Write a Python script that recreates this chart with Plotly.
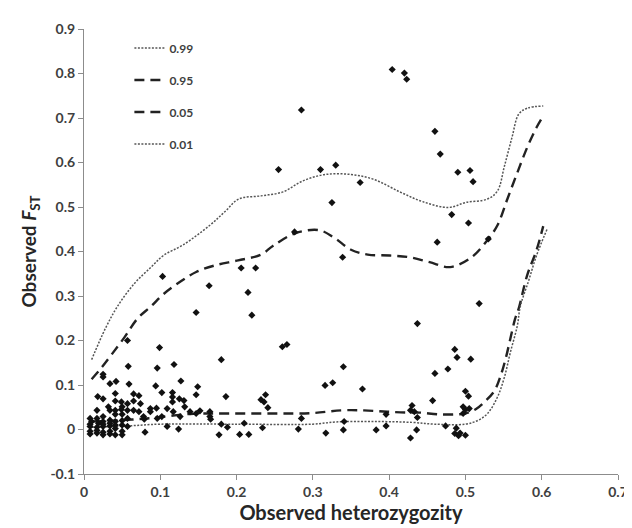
import plotly.graph_objects as go

# ---- data ----
het = [
    0.008, 0.008, 0.008, 0.008, 0.008, 0.010,
    0.017, 0.017, 0.017, 0.017, 0.018, 0.019, 0.017,
    0.025, 0.025, 0.025, 0.025, 0.025, 0.025, 0.025, 0.025, 0.025,
    0.032, 0.034, 0.034, 0.034, 0.034, 0.034, 0.034, 0.034,
    0.041, 0.041, 0.041, 0.041, 0.041, 0.041, 0.041, 0.042, 0.041,
    0.050, 0.050, 0.050, 0.050, 0.050, 0.049, 0.049, 0.050,
    0.057, 0.057, 0.057, 0.057, 0.059, 0.058, 0.057,
    0.065, 0.065, 0.065, 0.072, 0.074, 0.072,
    0.078, 0.080, 0.079, 0.087, 0.087,
    0.094, 0.096, 0.096, 0.099, 0.095,
    0.102, 0.102, 0.103, 0.109, 0.109,
    0.116, 0.116, 0.116, 0.117, 0.118,
    0.124, 0.126, 0.127, 0.125, 0.132, 0.131, 0.139,
    0.147, 0.149, 0.147, 0.147,
    0.152, 0.165, 0.165, 0.166, 0.164, 0.180, 0.186, 0.180, 0.188,
    0.177, 0.204, 0.216, 0.210, 0.206, 0.225, 0.215, 0.220, 0.232,
    0.236, 0.238, 0.241, 0.234,
    0.260, 0.266, 0.255, 0.276, 0.285, 0.281, 0.285,
    0.310, 0.330, 0.325, 0.316, 0.326, 0.317, 0.340, 0.339, 0.341, 0.340,
    0.362, 0.365, 0.383, 0.396, 0.396,
    0.404, 0.420, 0.423, 0.428, 0.430, 0.428, 0.433, 0.436, 0.437, 0.437,
    0.460, 0.467, 0.490, 0.506, 0.510, 0.482, 0.504, 0.463, 0.530,
    0.486, 0.489, 0.507, 0.460, 0.477, 0.457, 0.500, 0.504,
    0.474, 0.488, 0.486, 0.491, 0.493, 0.500,
    0.497, 0.500, 0.505, 0.497, 0.518,
]
fst = [
    -0.004, 0.007, 0.025, 0.012, -0.010, 0.018,
    -0.008, 0.005, 0.025, 0.043, 0.074, 0.014, -0.002,
    -0.006, 0.007, 0.018, 0.029, 0.069, 0.118, 0.124, 0.012, -0.012,
    0.051, 0.043, 0.021, 0.008, -0.004, 0.103, 0.014, -0.010,
    0.081, 0.064, 0.043, 0.034, 0.018, 0.010, -0.012, 0.108, 0.002,
    0.051, 0.034, 0.020, 0.010, -0.004, 0.062, 0.045, -0.012,
    0.058, 0.043, 0.025, 0.007, 0.102, 0.142, 0.200,
    0.064, 0.080, 0.043, 0.076, 0.058, 0.040,
    0.029, -0.006, 0.023, 0.047, 0.040,
    0.098, 0.025, 0.138, 0.184, 0.048,
    0.083, 0.029, 0.344, 0.047, 0.007,
    0.083, 0.073, 0.062, 0.040, 0.146,
    0.001, 0.029, 0.109, 0.069, 0.051, 0.065, 0.040,
    0.263, 0.096, 0.078, 0.036,
    0.042, 0.040, 0.029, 0.023, 0.323, 0.157, 0.074, 0.012, 0.005,
    -0.012, -0.011, -0.011, 0.014, 0.363, 0.363, 0.308, 0.257, 0.067,
    0.062, 0.078, 0.049, 0.004,
    0.186, 0.191, 0.584, 0.444, 0.718, 0.001, 0.025,
    0.584, 0.594, 0.510, 0.099, 0.105, -0.008, 0.141, 0.387, 0.018, -0.001,
    0.555, 0.091, -0.001, 0.034, 0.008,
    0.809, 0.801, 0.787, -0.019, 0.054, 0.043, 0.040, -0.001, 0.238, 0.027,
    0.670, 0.619, 0.578, 0.582, 0.557, 0.483, 0.464, 0.421, 0.428,
    0.180, 0.162, 0.158, 0.126, 0.136, 0.065, 0.086, 0.075,
    0.008, 0.003, -0.009, -0.014, -0.008, -0.013,
    0.051, 0.045, 0.047, 0.036, 0.283,
]

q99_x = [0.010, 0.028, 0.044, 0.066, 0.088, 0.104, 0.130, 0.165, 0.185, 0.203, 0.232, 0.261, 0.286,
         0.316, 0.350, 0.380, 0.414, 0.444, 0.478, 0.500, 0.529, 0.542, 0.551, 0.561, 0.570, 0.581, 0.602]
q99_y = [0.157, 0.227, 0.277, 0.328, 0.365, 0.391, 0.415, 0.459, 0.490, 0.518, 0.525, 0.534, 0.558,
         0.573, 0.573, 0.562, 0.534, 0.512, 0.499, 0.510, 0.518, 0.536, 0.591, 0.656, 0.709, 0.722, 0.727]

q95_x = [0.010, 0.023, 0.036, 0.053, 0.070, 0.088, 0.104, 0.126, 0.147, 0.172, 0.202, 0.232, 0.248,
         0.277, 0.308, 0.328, 0.350, 0.372, 0.401, 0.427, 0.453, 0.480, 0.508, 0.529, 0.542, 0.555,
         0.568, 0.581, 0.593, 0.603]
q95_y = [0.113, 0.139, 0.168, 0.207, 0.249, 0.277, 0.304, 0.332, 0.354, 0.369, 0.380, 0.393, 0.413,
         0.441, 0.448, 0.431, 0.404, 0.393, 0.391, 0.387, 0.376, 0.365, 0.387, 0.426, 0.459, 0.518,
         0.577, 0.634, 0.678, 0.707]

q05_x = [0.010, 0.050, 0.090, 0.139, 0.186, 0.250, 0.300, 0.337, 0.367, 0.397, 0.423, 0.440, 0.465,
         0.487, 0.500, 0.513, 0.525, 0.538, 0.546, 0.553, 0.559, 0.565, 0.570, 0.581, 0.593, 0.602]
q05_y = [0.018, 0.021, 0.026, 0.035, 0.036, 0.036, 0.037, 0.043, 0.043, 0.040, 0.038, 0.038, 0.034,
         0.034, 0.036, 0.045, 0.062, 0.087, 0.120, 0.161, 0.205, 0.248, 0.273, 0.347, 0.402, 0.457]

q01_x = [0.010, 0.057, 0.100, 0.200, 0.300, 0.330, 0.380, 0.430, 0.460, 0.500, 0.517, 0.529, 0.542,
         0.551, 0.559, 0.568, 0.572, 0.583, 0.593, 0.607]
q01_y = [0.005, 0.008, 0.012, 0.012, 0.012, 0.017, 0.018, 0.016, 0.012, 0.012, 0.021, 0.036, 0.073,
         0.117, 0.174, 0.233, 0.277, 0.335, 0.390, 0.450]

x_ticks = [0, 0.1, 0.2, 0.3, 0.4, 0.5, 0.6, 0.7]
x_tick_text = ["0", "0.1", "0.2", "0.3", "0.4", "0.5", "0.6", "0.7"]
y_ticks = [-0.1, 0, 0.1, 0.2, 0.3, 0.4, 0.5, 0.6, 0.7, 0.8, 0.9]
y_tick_text = ["-0.1", "0", "0.1", "0.2", "0.3", "0.4", "0.5", "0.6", "0.7", "0.8", "0.9"]

FONT = "Lato, 'Open Sans', sans-serif"

fig = go.Figure()

quantiles = [
    ("0.99", q99_x, q99_y, "2px,1.5px", 1.5, "#555555"),
    ("0.95", q95_x, q95_y, "10px,6px", 2.4, "#222222"),
    ("0.05", q05_x, q05_y, "10px,6px", 2.4, "#222222"),
    ("0.01", q01_x, q01_y, "2px,1.5px", 1.5, "#555555"),
]
for name, xs, ys, dash, w, c in quantiles:
    fig.add_trace(go.Scatter(
        x=xs, y=ys, mode="lines", name=name, legendgroup=name,
        line=dict(shape="spline", smoothing=1.0, dash=dash, width=w, color=c),
        hoverinfo="skip",
    ))

fig.add_trace(go.Scatter(
    x=het, y=fst, mode="markers", name="loci", showlegend=False,
    marker=dict(symbol="diamond", size=5.5, color="#111111"),
))

axis_common = dict(
    showgrid=False, zeroline=False, showline=True, linecolor="#8c8c8c", linewidth=1,
    ticks="outside", ticklen=5, tickcolor="#8c8c8c",
    tickfont=dict(family=FONT, size=14, color="#404040", weight="bold"),
)

fig.update_layout(
    width=632, height=528,
    margin=dict(l=76, r=14, t=16, b=62),
    paper_bgcolor="white", plot_bgcolor="white",
    font=dict(family=FONT),
    xaxis=dict(range=[0, 0.7], tickvals=x_ticks, ticktext=x_tick_text,
               title=dict(text="Observed heterozygozity",
                          font=dict(family=FONT, size=20, color="#262626", weight="bold"),
                          standoff=0),
               **axis_common),
    yaxis=dict(range=[-0.1, 0.9], tickvals=y_ticks, ticktext=y_tick_text,
               title=dict(text="Observed <i>F</i><sub>ST</sub>",
                          font=dict(family=FONT, size=19, color="#262626", weight="bold"),
                          standoff=8),
               **axis_common),
    legend=dict(x=0.085, y=0.99, xanchor="left", yanchor="top",
                traceorder="grouped", tracegroupgap=13,
                font=dict(family=FONT, size=12, color="#404040", weight="bold"),
                bgcolor="rgba(0,0,0,0)", itemwidth=30),
    showlegend=True,
)

fig.write_html("out.html")
